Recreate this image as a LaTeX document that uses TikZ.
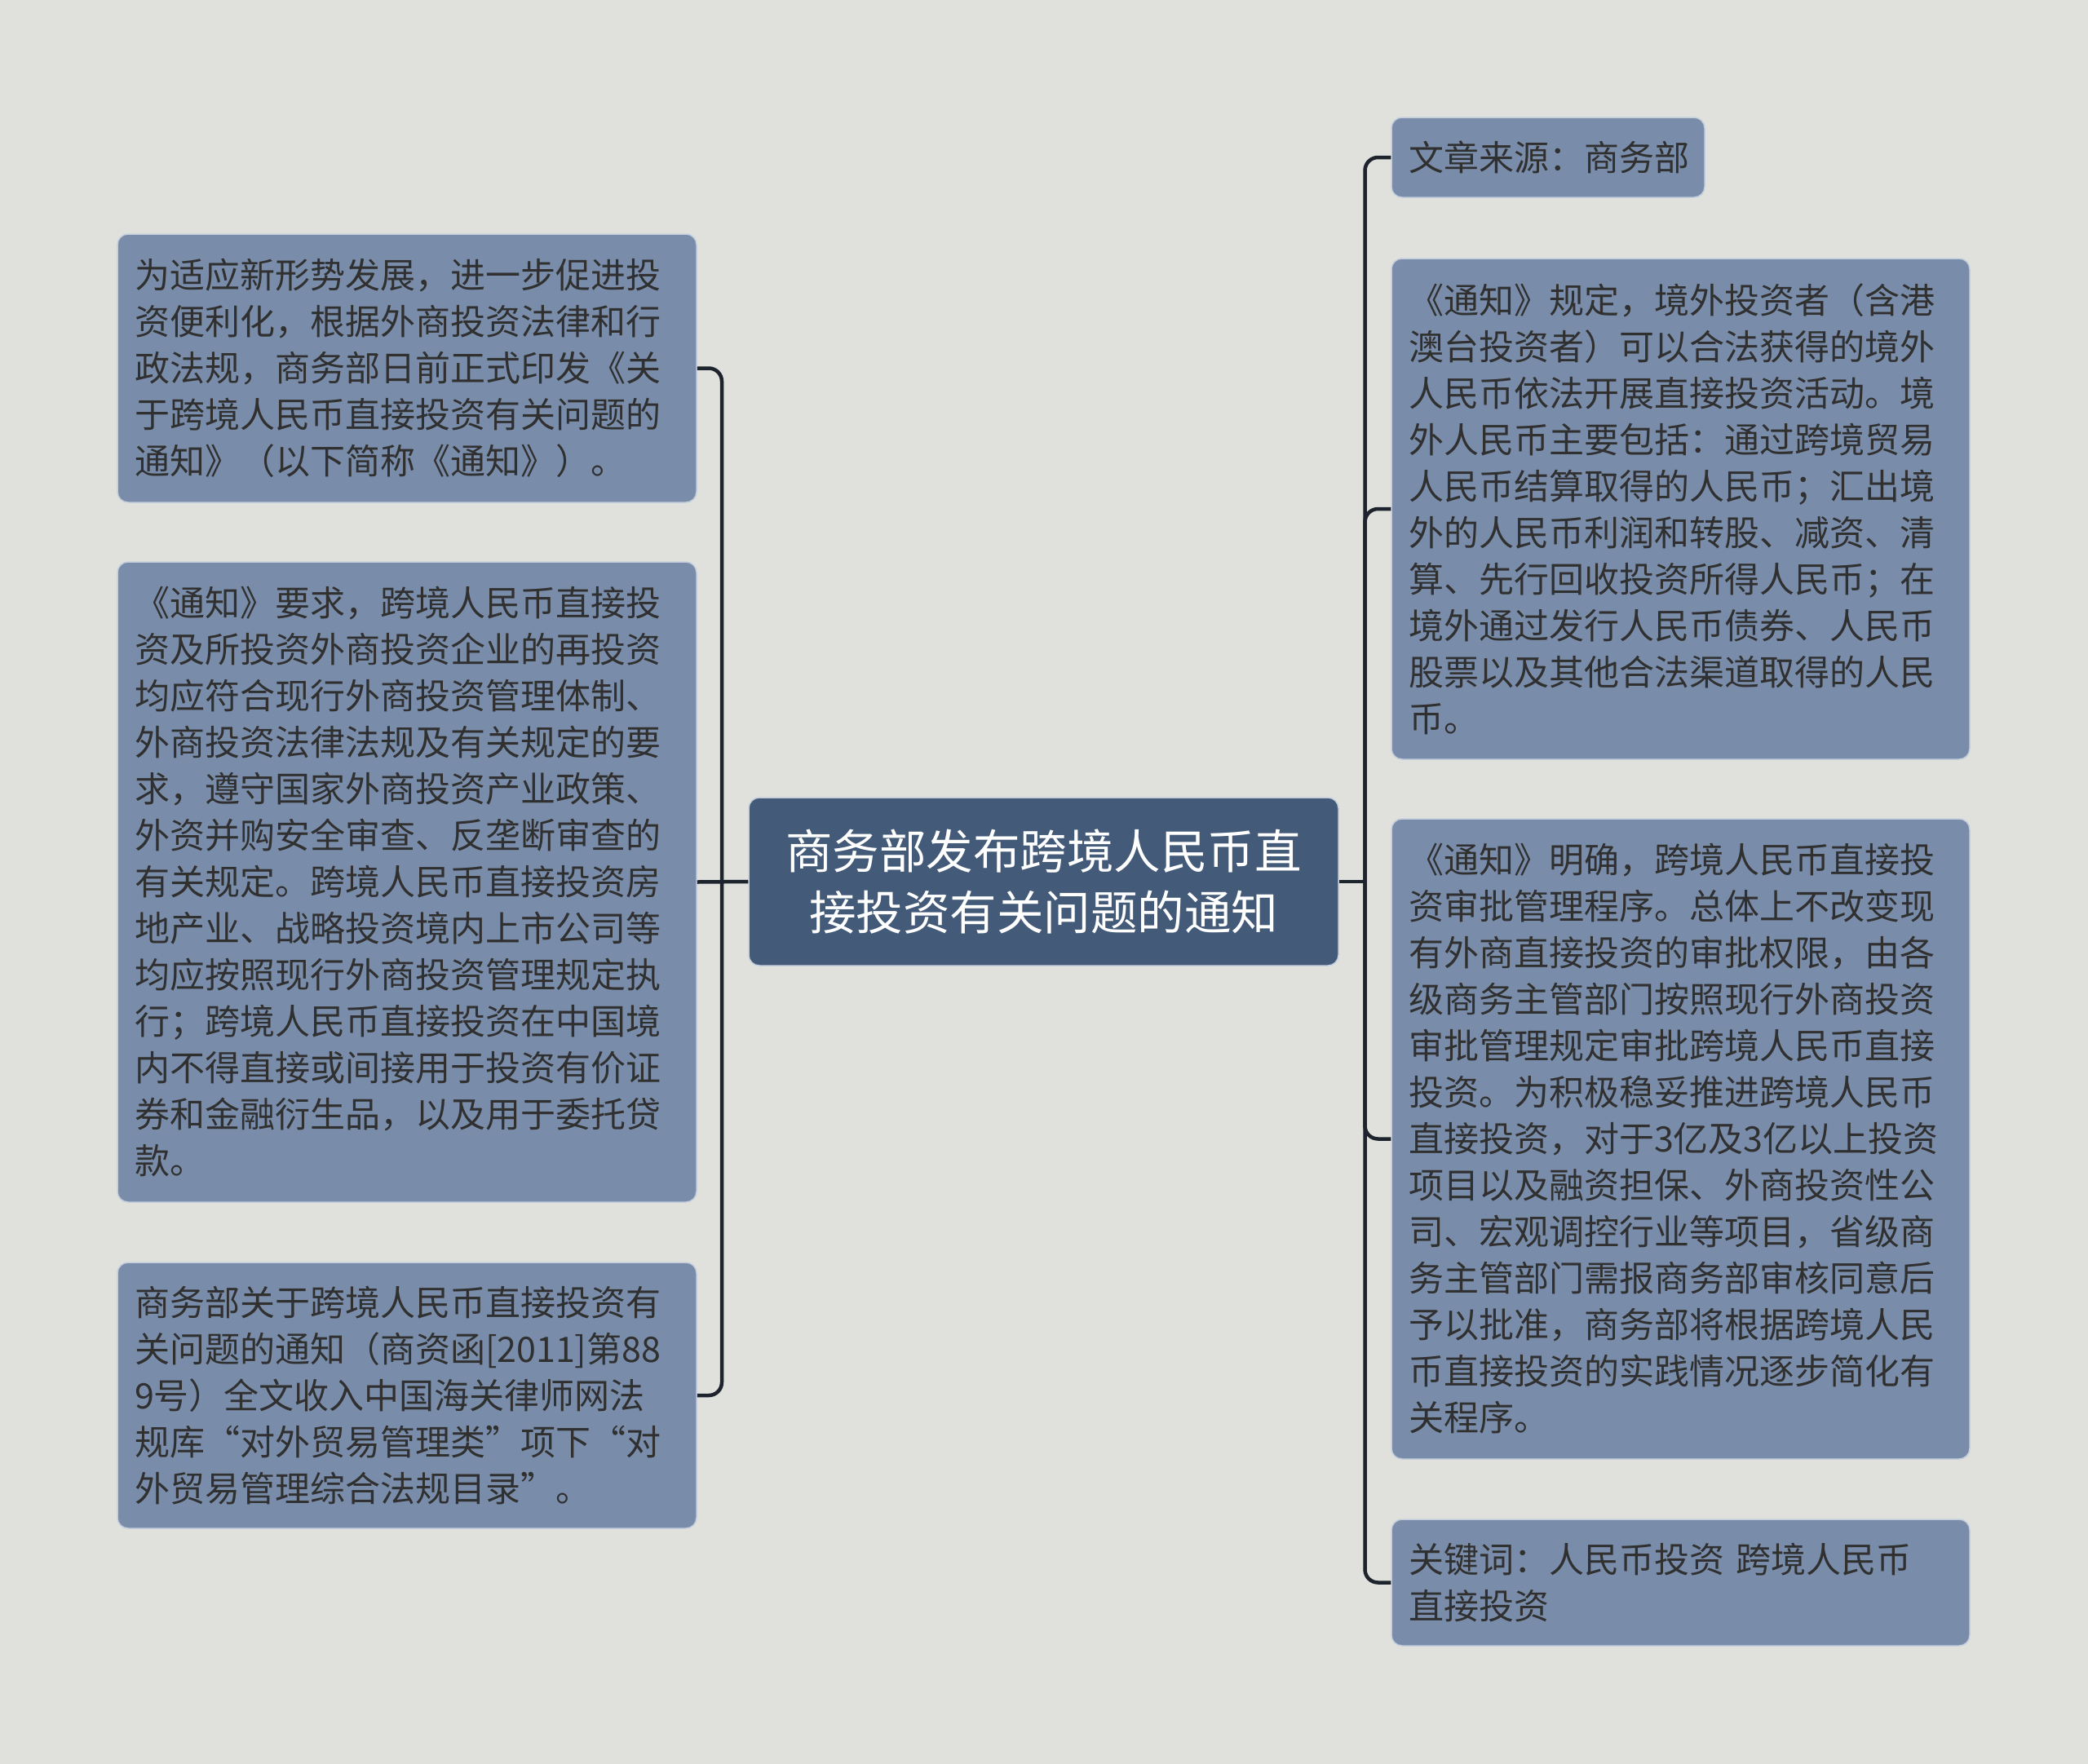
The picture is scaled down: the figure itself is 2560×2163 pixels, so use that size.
\documentclass[tikz,border=0pt]{standalone}
\usepackage{fontspec}
\newfontfamily\cjk{Noto Sans CJK SC}
\definecolor{bgc}{RGB}{224,225,220}
\definecolor{leaffill}{RGB}{121,141,170}
\definecolor{leafedge}{RGB}{196,206,220}
\definecolor{rootfill}{RGB}{67,90,120}
\definecolor{txt}{RGB}{48,48,48}
\definecolor{linkc}{RGB}{30,36,46}
\tikzset{
  leaf/.style={rectangle, rounded corners=13pt, fill=leaffill, draw=leafedge, line width=1.5pt,
    text=txt, font=\cjk\fontsize{43}{57}\selectfont, align=left, inner xsep=21pt, inner ysep=0pt},
  root/.style={rectangle, rounded corners=13pt, fill=rootfill, draw=leafedge, line width=1.5pt,
    text=white, font=\cjk\fontsize{57.5}{75}\selectfont, align=center, inner sep=0pt,
    minimum width=723pt, minimum height=206pt},
  link/.style={draw=linkc, line width=4.5pt},
  elbow/.style={rounded corners=16pt}
}
\begin{document}
\begin{tikzpicture}[x=1pt,y=-1pt]
\useasboundingbox (0,0) rectangle (2560,2163);
\fill[bgc] (0,0) rectangle (2560,2163);

\node[root] (C) at (1279.5,1081) {商务部发布跨境人民币直\\接投资有关问题的通知};

\node[leaf, text width=668pt, minimum height=329pt] (L1) at (499,451.5) {为适应新形势发展，进一步促进投\\资便利化，根据外商投资法律和行\\政法规，商务部日前正式印发《关\\于跨境人民币直接投资有关问题的\\通知》（以下简称《通知》）。};

\node[leaf, text width=668pt, minimum height=785pt] (L2) at (499,1081.5) {《通知》要求，跨境人民币直接投\\资及所投资外商投资企业的再投资\\均应符合现行外商投资管理体制、\\外商投资法律法规及有关规定的要\\求，遵守国家外商投资产业政策、\\外资并购安全审查、反垄断审查的\\有关规定。跨境人民币直接投资房\\地产业、战略投资境内上市公司等\\均应按照现行外商投资管理规定执\\行；跨境人民币直接投资在中国境\\内不得直接或间接用于投资有价证\\券和金融衍生品，以及用于委托贷\\款。};

\node[leaf, text width=668pt, minimum height=326pt] (L3) at (499,1711) {商务部关于跨境人民币直接投资有\\关问题的通知（商资函[2011]第88\\9号）全文收入中国海关律师网法\\规库“对外贸易管理类”项下“对\\外贸易管理综合法规目录”。};

\node[leaf, text width=342pt, minimum height=98pt] (R1) at (1898,193) {文章来源：商务部};

\node[leaf, text width=667pt, minimum height=614pt] (R2) at (2060.5,624) {《通知》规定，境外投资者（含港\\澳台投资者）可以合法获得的境外\\人民币依法开展直接投资活动。境\\外人民币主要包括：通过跨境贸易\\人民币结算取得的人民币；汇出境\\外的人民币利润和转股、减资、清\\算、先行回收投资所得人民币；在\\境外通过发行人民币债券、人民币\\股票以及其他合法渠道取得的人民\\币。};

\node[leaf, text width=667pt, minimum height=785pt] (R3) at (2060.5,1396.5) {《通知》明确，跨境人民币直接投\\资审批管理程序。总体上不改变现\\有外商直接投资的审批权限，由各\\级商务主管部门按照现行外商投资\\审批管理规定审批跨境人民币直接\\投资。为积极稳妥推进跨境人民币\\直接投资，对于3亿及3亿以上投资\\项目以及融资担保、外商投资性公\\司、宏观调控行业等项目，省级商\\务主管部门需报商务部审核同意后\\予以批准，商务部将根据跨境人民\\币直接投资的实践情况逐步简化有\\关程序。};

\node[leaf, text width=667pt, minimum height=155pt] (R4) at (2060.5,1940.5) {关键词：人民币投资 跨境人民币\\直接投资};

\coordinate (lb) at (885,1081);
\coordinate (rb) at (1673.5,1081);

\draw[link] (C.west) -- (L2.east);
\draw[link,elbow] (lb) -- (lb |- L1.east) -- (L1.east);
\draw[link,elbow] (lb) -- (lb |- L3.east) -- (L3.east);

\draw[link] (C.east) -- (rb);
\draw[link,elbow] (rb) -- (rb |- R1.west) -- (R1.west);
\draw[link,elbow] (rb) -- (rb |- R2.west) -- (R2.west);
\draw[link,elbow] (rb) -- (rb |- R3.west) -- (R3.west);
\draw[link,elbow] (rb) -- (rb |- R4.west) -- (R4.west);
\end{tikzpicture}
\end{document}
